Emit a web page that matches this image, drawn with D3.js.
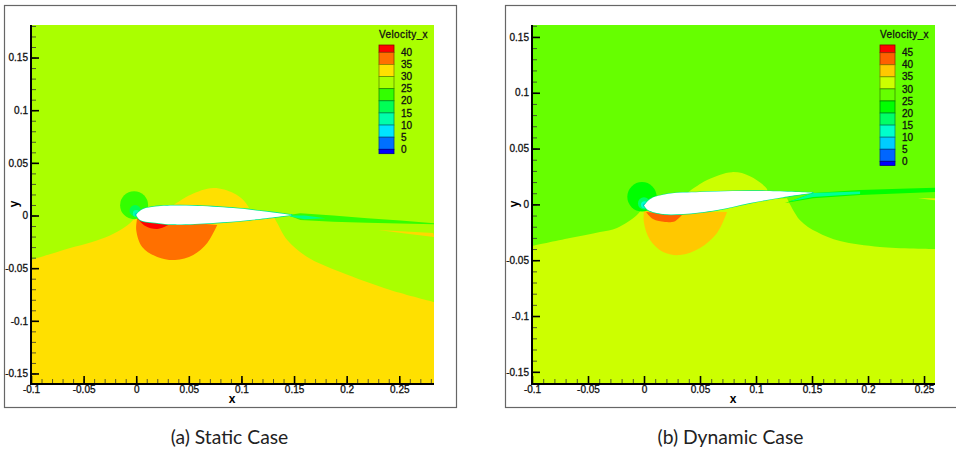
<!DOCTYPE html>
<html>
<head>
<meta charset="utf-8">
<script src="https://cdn.jsdelivr.net/npm/d3@7"></script>
<style>
  html, body { margin: 0; padding: 0; background: #fff; overflow: hidden; }
  svg { display: block; }
</style>
</head>
<body>
<svg id="chart" width="956" height="455"></svg>
<script>
// Shared axis values
const xTicks = [-0.1, -0.05, 0, 0.05, 0.1, 0.15, 0.2, 0.25]
const yTicks = [-0.15, -0.1, -0.05, 0, 0.05, 0.1, 0.15]
const xMinor = d3.range(-10, 29).map(d => d / 100)
const yMinor = d3.range(-16, 19).map(d => d / 100)

// (a) Static case, legend levels and contour outlines in x,y units
const staticLevels = [43, 40, 35, 30, 25, 20, 15, 10, 5, 0, -1.8]
const staticLabels = [40, 35, 30, 25, 20, 15, 10, 5, 0]
const staticColors = ['#ff0000', '#ff7000', '#ffe000', '#aaff00', '#33ff00', '#00ff55', '#00ffaa', '#00e5ff', '#0070ff', '#0000ff']
const staticTop = [[0, 0.0005], [0.002, 0.003], [0.0066, 0.0062], [0.018, 0.0085], [0.0295, 0.0093], [0.054, 0.0093], [0.092, 0.0071], [0.1245, 0.0036], [0.148, 0.0005]]
const staticBottom = [[0.148, 0.0005], [0.108, -0.0043], [0.073, -0.0071], [0.035, -0.0084], [0.02, -0.0071], [0.0038, -0.0043], [0, 0.0005]]
const staticLowLeft = [[-0.1, -0.0423], [-0.0722, -0.0337], [-0.0342, -0.0226], [-0.018, -0.0154], [-0.0057, -0.0071], [0, -0.0005]]
const staticLowRight = [[0.1305, -0.001], [0.134, -0.0071], [0.1435, -0.0233], [0.1625, -0.0394], [0.194, -0.0537], [0.2414, -0.0707], [0.283, -0.0821]]
const staticBump = [[0.0342, 0.009], [0.0513, 0.0195], [0.0732, 0.0261], [0.0922, 0.0214], [0.1017, 0.0147], [0.1074, 0.0071]]
const staticBlob = [[0.001, -0.0024], [0, -0.0138], [0.0057, -0.0299], [0.02, -0.0394], [0.037, -0.0423], [0.0542, -0.0375], [0.0675, -0.0261], [0.077, -0.009]]
const staticPeak = [[0.001, -0.0024], [0.0086, -0.01], [0.02, -0.0128], [0.0304, -0.009]]
const staticWake = [[0.1464, 0.0007], [0.1559, 0.0021], [0.1873, 0], [0.2196, -0.0027], [0.251, -0.0047], [0.2833, -0.0074], [0.2833, -0.0084], [0.251, -0.0076], [0.2196, -0.0068], [0.1873, -0.0059], [0.1559, -0.0043], [0.1464, -0.0005]]
const staticWakeCore = [[0.146, 0], [0.16, 0], [0.18, -0.0025], [0.16, -0.0035], [0.146, -0.001]]
const staticStreak = [[0.23, -0.0138], [0.2823, -0.0166], [0.2833, -0.0204], [0.2557, -0.0171]]
const staticRings = [[-0.002, 0.0098, 0.0133], [-0.001, 0.0045, 0.0054], [0, 0.002, 0.0032], [0.0005, 0.0008, 0.0016]]

// (b) Dynamic case
const dynamicLevels = [48.2, 45, 40, 35, 30, 25, 20, 15, 10, 5, 0, -1.7]
const dynamicLabels = [45, 40, 35, 30, 25, 20, 15, 10, 5, 0]
const dynamicColors = ['#ff0000', '#ff6000', '#ffc800', '#ccff00', '#66ff00', '#00ff00', '#00ff66', '#00ffcc', '#00ccff', '#0066ff', '#0000ff']
const dynamicTop = [[0, -0.0011], [0.0054, 0.0047], [0.0205, 0.0092], [0.05, 0.011], [0.0795, 0.0119], [0.1098, 0.0119], [0.1509, 0.0104]]
const dynamicBottom = [[0.1509, 0.0104], [0.1241, 0.0065], [0.0946, 0.0012], [0.0652, -0.0051], [0.0348, -0.0087], [0.017, -0.0087], [0.0036, -0.0051], [0, -0.0011]]
const dynamicLowLeft = [[-0.1, -0.0373], [-0.0661, -0.0302], [-0.0393, -0.0248], [-0.0241, -0.0212], [-0.0063, -0.0096], [0, -0.0015]]
const dynamicLowRight = [[0.1277, 0.0056], [0.1393, -0.0141], [0.1545, -0.0248], [0.175, -0.0329], [0.2107, -0.0382], [0.2598, -0.04]]
const dynamicBump = [[0.0384, 0.0101], [0.0563, 0.0218], [0.0786, 0.0289], [0.0946, 0.0253], [0.1098, 0.0137], [0.11, 0.01]]
const dynamicBlob = [[0, -0.0051], [0, -0.0167], [0.0054, -0.032], [0.017, -0.0427], [0.0321, -0.0454], [0.05, -0.0391], [0.0652, -0.0257], [0.0741, -0.0069]]
const dynamicPeak = [[0.0018, -0.0069], [0.008, -0.0132], [0.0188, -0.0158], [0.0277, -0.015], [0.0339, -0.0096]]
const dynamicWake = [[0.1509, 0.0101], [0.1929, 0.0128], [0.2286, 0.0141], [0.2598, 0.015], [0.2598, 0.011], [0.1929, 0.0083], [0.1509, 0.0056], [0.1259, 0.0012]]
const dynamicWakeCore = [[0.1509, 0.0101], [0.1929, 0.0115], [0.1929, 0.0092], [0.1509, 0.0066], [0.13, 0.0025]]
const dynamicStreak = [[0.2446, 0.0056], [0.2598, 0.0056], [0.2598, 0.0038]]
const dynamicRings = [[-0.0018, 0.0068, 0.0131], [0, 0.0009, 0.0054], [0.0005, -0.0003, 0.0032], [0.0008, -0.0008, 0.0016]]

const svg = d3.select('#chart')
const fontAxis = '"Liberation Sans", Arial, sans-serif'

function tickText(d) {
    return d === 0 ? '0' : String(d)
}

// draws one contour panel
function drawPanel(p) {
    const left = p.plot[0], top = p.plot[1], right = p.plot[2], bottom = p.plot[3]
    const x = d3.scaleLinear().domain(p.xDomain).range([left, right])
    const y = d3.scaleLinear().domain(p.yDomain).range([bottom, top])
    const g = svg.append('g')

    g.append('rect')
        .attr('x', p.frame[0]).attr('y', p.frame[1])
        .attr('width', p.frame[2] - p.frame[0]).attr('height', p.frame[3] - p.frame[1])
        .attr('fill', '#fff').attr('stroke', '#666').attr('stroke-width', 1.2)

    const clipId = 'clip' + p.id
    svg.append('clipPath').attr('id', clipId).append('rect')
        .attr('x', left).attr('y', top).attr('width', right - left).attr('height', bottom - top)

    const field = g.append('g').attr('clip-path', 'url(#' + clipId + ')')
    const curve = d3.line().x(d => x(d[0])).y(d => y(d[1])).curve(d3.curveCatmullRom.alpha(0.5))
    const straight = d3.line().x(d => x(d[0])).y(d => y(d[1]))

    field.append('rect')
        .attr('x', left).attr('y', top).attr('width', right - left).attr('height', bottom - top)
        .attr('fill', p.background)

    // lower region: two curved edges joined along the airfoil, closed along the plot corners
    const corners = [[p.xDomain[1], p.yDomain[0]], [p.xDomain[0], p.yDomain[0]]]
    field.append('path')
        .attr('d', curve(p.lowLeft) + 'L' + curve(p.lowRight).slice(1) + 'L' + straight(corners).slice(1) + 'Z')
        .attr('fill', p.low)

    field.append('path').attr('d', curve(p.bump) + 'Z').attr('fill', p.low)
    field.append('path').attr('d', curve(p.blob) + 'Z').attr('fill', p.blobColor)
    field.append('path').attr('d', curve(p.peak) + 'Z').attr('fill', p.peakColor)

    field.selectAll('circle.ring').data(p.rings).join('circle')
        .attr('class', 'ring')
        .attr('cx', d => x(d[0]))
        .attr('cy', d => y(d[1]))
        .attr('r', d => x(d[2]) - x(0))
        .attr('fill', (d, i) => p.ringColors[i])

    field.append('path').attr('d', straight(p.wake) + 'Z').attr('fill', p.wakeColor)
    field.append('path').attr('d', straight(p.wakeCore) + 'Z').attr('fill', p.wakeCoreColor)
    field.append('path').attr('d', straight(p.streak) + 'Z').attr('fill', p.streakColor)

    const foil = curve(p.foilTop) + 'L' + curve(p.foilBottom).slice(1) + 'Z'
    field.append('path').attr('d', foil).attr('fill', '#fff')
        .attr('stroke', p.edgeColor).attr('stroke-width', 1.4).attr('stroke-linejoin', 'round')
    field.append('path').attr('d', foil).attr('fill', '#fff')

    // minor ticks
    g.append('g').attr('transform', 'translate(0,' + bottom + ')')
        .call(d3.axisBottom(x).tickValues(xMinor.filter(d => d <= p.xDomain[1])).tickSize(-5).tickFormat(''))
        .call(a => a.select('.domain').remove())
        .call(a => a.selectAll('line').attr('stroke', '#333').attr('stroke-width', 1).attr('opacity', 0.8))
    g.append('g').attr('transform', 'translate(' + left + ',0)')
        .call(d3.axisLeft(y).tickValues(yMinor.filter(d => d <= p.yDomain[1] && d >= p.yDomain[0])).tickSize(-5).tickFormat(''))
        .call(a => a.select('.domain').remove())
        .call(a => a.selectAll('line').attr('stroke', '#333').attr('stroke-width', 1).attr('opacity', 0.8))

    // major ticks with labels
    g.append('g').attr('transform', 'translate(0,' + bottom + ')')
        .call(d3.axisBottom(x).tickValues(xTicks).tickSize(-8).tickPadding(4).tickFormat(tickText))
        .call(a => a.select('.domain').remove())
        .call(a => a.selectAll('line').attr('stroke', '#000').attr('stroke-width', 1.6))
        .call(a => a.selectAll('text').attr('y', 2).attr('dy', '0.71em')
            .attr('font-family', fontAxis).attr('font-size', 10).attr('fill', '#111')
            .attr('stroke', '#111').attr('stroke-width', 0.3))
    g.append('g').attr('transform', 'translate(' + left + ',0)')
        .call(d3.axisLeft(y).tickValues(yTicks).tickSize(-8).tickPadding(3).tickFormat(tickText))
        .call(a => a.select('.domain').remove())
        .call(a => a.selectAll('line').attr('stroke', '#000').attr('stroke-width', 1.6))
        .call(a => a.selectAll('text')
            .attr('font-family', fontAxis).attr('font-size', 10).attr('fill', '#111')
            .attr('stroke', '#111').attr('stroke-width', 0.3))

    // axis lines
    g.append('line').attr('x1', left).attr('x2', left).attr('y1', top).attr('y2', bottom + 1)
        .attr('stroke', '#000').attr('stroke-width', 2)
    g.append('line').attr('x1', left).attr('x2', right).attr('y1', bottom).attr('y2', bottom)
        .attr('stroke', '#000').attr('stroke-width', 2)

    g.append('text').attr('x', p.xLabel[0]).attr('y', p.xLabel[1])
        .attr('text-anchor', 'middle').attr('font-family', fontAxis).attr('font-size', 12).attr('font-weight', 700)
        .text('x')
    g.append('text').attr('transform', 'translate(' + p.yLabel[0] + ',' + p.yLabel[1] + ') rotate(-90)')
        .attr('text-anchor', 'middle').attr('font-family', fontAxis).attr('font-size', 12).attr('font-weight', 700)
        .text('y')

    // legend
    const ly = d3.scaleLinear().domain([0, p.legendLabels[0]]).range(p.legendRange)
    const lg = g.append('g')
    lg.selectAll('rect').data(p.colors).join('rect')
        .attr('x', p.legendX)
        .attr('y', (d, i) => ly(p.levels[i]))
        .attr('width', 15)
        .attr('height', (d, i) => ly(p.levels[i + 1]) - ly(p.levels[i]))
        .attr('fill', d => d)
        .attr('stroke', d => d3.color(d).darker(1.6))
        .attr('stroke-width', 0.8)
    lg.selectAll('text.lab').data(p.legendLabels).join('text')
        .attr('class', 'lab')
        .attr('x', p.legendX + 22)
        .attr('y', d => ly(d))
        .attr('dy', '0.36em')
        .attr('font-family', fontAxis).attr('font-size', 10).attr('fill', '#111')
        .attr('stroke', '#111').attr('stroke-width', 0.3)
        .text(d => d)
    lg.append('text').attr('x', p.legendX).attr('y', 38)
        .attr('font-family', fontAxis).attr('font-size', 10).attr('letter-spacing', 0.4).attr('fill', '#111')
        .attr('stroke', '#111').attr('stroke-width', 0.3)
        .text('Velocity_x')

    g.append('text').attr('x', p.captionX).attr('y', 444)
        .attr('text-anchor', 'middle').attr('font-family', 'Lato, sans-serif').attr('font-size', 19.3).attr('fill', '#222')
        .text(p.caption)
}

drawPanel({
    id: 'a', caption: '(a) Static Case', captionX: 229.5,
    frame: [4.5, 5.5, 456.5, 407.5], plot: [31, 25, 434, 384],
    xDomain: [-0.1, 0.283], yDomain: [-0.16, 0.1809],
    xLabel: [232, 403], yLabel: [18, 204],
    background: '#aaff00', low: '#ffe000', blobColor: '#ff7000', peakColor: '#ff0000',
    wakeColor: '#33ff00', wakeCoreColor: '#00ff88', streakColor: '#ffd800', edgeColor: '#00e890',
    ringColors: ['#33ff00', '#00ff55', '#00ffaa', '#00a0ff'],
    foilTop: staticTop, foilBottom: staticBottom, lowLeft: staticLowLeft, lowRight: staticLowRight,
    bump: staticBump, blob: staticBlob, peak: staticPeak, wake: staticWake, wakeCore: staticWakeCore,
    streak: staticStreak, rings: staticRings,
    levels: staticLevels, colors: staticColors, legendLabels: staticLabels,
    legendX: 379, legendRange: [149.3, 52.3]
})

drawPanel({
    id: 'b', caption: '(b) Dynamic Case', captionX: 730.5,
    frame: [505.5, 5.5, 960, 407.5], plot: [532, 25, 935, 384],
    xDomain: [-0.1, 0.2598], yDomain: [-0.1609, 0.1607],
    xLabel: [733, 403], yLabel: [518, 204],
    background: '#66ff00', low: '#ccff00', blobColor: '#ffc800', peakColor: '#ff6000',
    wakeColor: '#00ff00', wakeCoreColor: '#00ff99', streakColor: '#e8f000', edgeColor: '#00e890',
    ringColors: ['#00ff00', '#00ff66', '#00ffcc', '#00a0ff'],
    foilTop: dynamicTop, foilBottom: dynamicBottom, lowLeft: dynamicLowLeft, lowRight: dynamicLowRight,
    bump: dynamicBump, blob: dynamicBlob, peak: dynamicPeak, wake: dynamicWake, wakeCore: dynamicWakeCore,
    streak: dynamicStreak, rings: dynamicRings,
    levels: dynamicLevels, colors: dynamicColors, legendLabels: dynamicLabels,
    legendX: 880, legendRange: [161.3, 52.7]
})
</script>
</body>
</html>
